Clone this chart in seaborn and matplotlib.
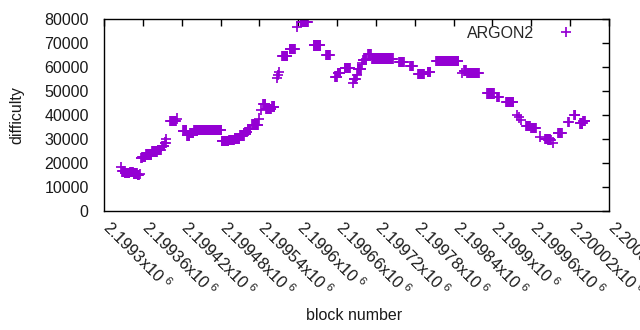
import numpy as np
import pandas as pd
import matplotlib
matplotlib.use("Agg")
import matplotlib.pyplot as plt
import matplotlib.transforms as mtransforms
import seaborn as sns

# Runs of constant difficulty: first block, last block, difficulty
seg_start = [2199326, 2199328, 2199332, 2199340, 2199346, 2199352, 2199356,
             2199357, 2199359, 2199365, 2199374, 2199383, 2199390, 2199394, 2199396,
             2199402, 2199413, 2199422, 2199428, 2199433, 2199439, 2199445,
             2199482, 2199493, 2199502, 2199510, 2199518, 2199522, 2199529, 2199539,
             2199543, 2199546, 2199550, 2199560, 2199567, 2199569, 2199570, 2199575,
             2199587, 2199598, 2199604, 2199624, 2199643, 2199657, 2199661, 2199672,
             2199685, 2199686, 2199691, 2199692, 2199699, 2199700, 2199708, 2199714,
             2199756, 2199773, 2199785, 2199800, 2199813, 2199853, 2199856, 2199861,
             2199892, 2199907, 2199921, 2199938, 2199941, 2199944, 2199952, 2199960,
             2199973, 2199981, 2199986, 2199994, 2200001, 2200017, 2200026, 2200035,
             2200040]
seg_end = [2199326, 2199331, 2199339, 2199345, 2199351, 2199354, 2199356,
           2199358, 2199364, 2199373, 2199382, 2199388, 2199393, 2199395, 2199396,
           2199411, 2199413, 2199427, 2199432, 2199438, 2199444, 2199481,
           2199492, 2199501, 2199509, 2199516, 2199521, 2199526, 2199538, 2199539,
           2199543, 2199549, 2199558, 2199563, 2199567, 2199569, 2199570, 2199583,
           2199595, 2199598, 2199615, 2199634, 2199649, 2199660, 2199665, 2199680,
           2199685, 2199689, 2199691, 2199697, 2199699, 2199705, 2199712, 2199746,
           2199763, 2199777, 2199794, 2199804, 2199847, 2199853, 2199859, 2199879,
           2199902, 2199910, 2199932, 2199938, 2199941, 2199944, 2199958, 2199967,
           2199973, 2199989, 2199990, 2199994, 2200007, 2200018, 2200028, 2200039,
           2200043]
seg_diff = [18300, 16500, 15800, 16200, 15600, 15000, 15400,
            22000, 22500, 23500, 24800, 25500, 27000, 28500, 30000,
            37500, 38500, 33500, 31500, 32500, 33500, 33800,
            29200, 29500, 30200, 31500, 33000, 34000, 36000, 38500,
            42000, 44500, 42500, 43500, 55400, 56800, 58000, 64500,
            67500, 76700, 78800, 69000, 65000, 56000, 57500, 59500,
            53300, 55000, 56500, 59000, 61500, 63000, 65500, 63500,
            62000, 60500, 57000, 58000, 62500, 57500, 58500, 57500,
            49000, 47500, 45500, 40000, 39000, 38000, 35500, 34500,
            31000, 30000, 29500, 28500, 32500, 37000, 40000, 36500,
            37500]

blocks = np.concatenate([np.arange(s, e + 1) for s, e in zip(seg_start, seg_end)])
diffs = np.concatenate([np.full(e - s + 1, d) for s, e, d in zip(seg_start, seg_end, seg_diff)])
df = pd.DataFrame({"block number": blocks, "difficulty": diffs, "series": "ARGON2"})

x_ticks = [2199300 + 60 * i for i in range(14)]
y_ticks = list(range(0, 80001, 10000))

sns.set_theme(style="white")
plt.rcParams["font.family"] = ["Liberation Sans", "DejaVu Sans"]
plt.rcParams["mathtext.default"] = "regular"

fig = plt.figure(figsize=(6.4, 3.3), dpi=100)
ax = fig.add_axes([104 / 640, 1 - 211 / 330, 505 / 640, 192 / 330])

sns.scatterplot(data=df, x="block number", y="difficulty", hue="series",
                palette=["#9400D3"], marker="+", s=55, linewidth=1.25, ax=ax)

ax.set_xlim(2199300, 2200080)
ax.set_ylim(0, 80000)
ax.set_xticks(x_ticks)
ax.set_xticklabels([f"{v/1e6:.6g}x10$^{{\\ 6}}$" for v in x_ticks],
                   rotation=-45, ha="left", va="center_baseline", rotation_mode="anchor",
                   fontsize=11.8)
ax.set_yticks(y_ticks)
ax.set_yticklabels([str(v) for v in y_ticks])
ax.tick_params(axis="both", direction="in", length=5, width=1, color="black",
               top=True, right=True, labelsize=11.5, labelcolor="#1a1a1a")
ax.tick_params(axis="x", labelsize=11.8)
ax.tick_params(axis="y", pad=11)
ax.tick_params(axis="x", pad=9)
shift = mtransforms.ScaledTranslation(3 / 100, 0, fig.dpi_scale_trans)
for lbl in ax.get_xticklabels():
    lbl.set_transform(lbl.get_transform() + shift)
for sp in ax.spines.values():
    sp.set_color("black")
    sp.set_linewidth(1)

ax.set_xlabel("block number", fontsize=11.5, color="#1a1a1a")
ax.set_ylabel("difficulty", fontsize=11.5, color="#1a1a1a")
ax.xaxis.set_label_coords(0.495, -97 / 192, transform=ax.transAxes)
ax.yaxis.set_label_coords(-80 / 505, 0.5, transform=ax.transAxes)

leg = ax.legend(loc="upper right", markerfirst=False, frameon=False,
                fontsize=11.5, handletextpad=1.0, borderaxespad=0.2,
                bbox_to_anchor=(0.965, 1.015))
for h in leg.legend_handles:
    if hasattr(h, "set_markersize"):
        h.set_markersize(7)

fig.savefig("out.png", dpi=100)
